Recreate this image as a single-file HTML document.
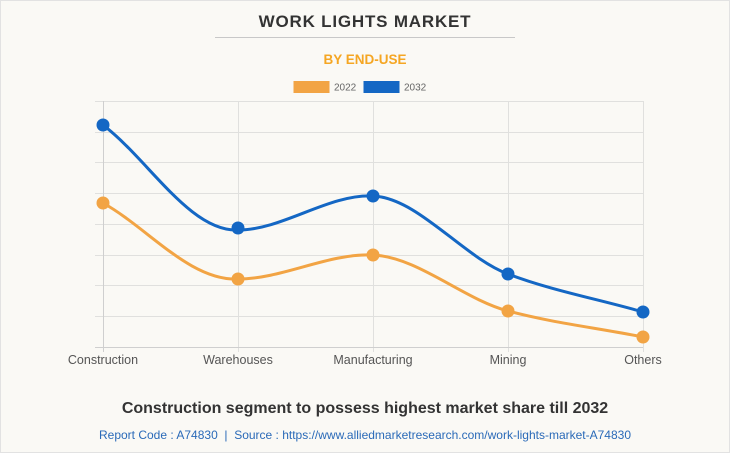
<!DOCTYPE html>
<html><head><meta charset="utf-8"><style>
html,body{margin:0;padding:0;}
body{width:730px;height:453px;background:#faf9f5;font-family:"Liberation Sans",Arial,sans-serif;overflow:hidden;position:relative;}
.frame{position:absolute;left:0;top:0;width:728px;height:451px;border:1px solid #e2e2e2;}
</style></head><body>
<div class="frame"></div>
<svg width="730" height="453" style="position:absolute;left:0;top:0" xmlns="http://www.w3.org/2000/svg">
<text x="365" y="27" text-anchor="middle" font-family="Liberation Sans, Arial, sans-serif" font-weight="bold" font-size="17" letter-spacing="0.8" fill="#333">WORK LIGHTS MARKET</text>
<line x1="215" y1="37.5" x2="515" y2="37.5" stroke="#c8c8c8" stroke-width="1"/>
<text x="365" y="64" text-anchor="middle" font-family="Liberation Sans, Arial, sans-serif" font-weight="bold" font-size="13.5" fill="#f5a623">BY END-USE</text>
<rect x="293.5" y="81" width="36" height="12" fill="#f2a444"/>
<text x="334" y="90.5" font-family="Liberation Sans, Arial, sans-serif" font-size="10" fill="#666">2022</text>
<rect x="363.5" y="81" width="36" height="12" fill="#1467c4"/>
<text x="404" y="90.5" font-family="Liberation Sans, Arial, sans-serif" font-size="10" fill="#666">2032</text>
<g stroke="#e0e0de" stroke-width="1">
<line x1="95" y1="101.5" x2="643" y2="101.5"/>
<line x1="95" y1="132.5" x2="643" y2="132.5"/>
<line x1="95" y1="162.5" x2="643" y2="162.5"/>
<line x1="95" y1="193.5" x2="643" y2="193.5"/>
<line x1="95" y1="224.5" x2="643" y2="224.5"/>
<line x1="95" y1="255.5" x2="643" y2="255.5"/>
<line x1="95" y1="285.5" x2="643" y2="285.5"/>
<line x1="95" y1="316.5" x2="643" y2="316.5"/>
<line x1="238.5" y1="101" x2="238.5" y2="352"/>
<line x1="373.5" y1="101" x2="373.5" y2="352"/>
<line x1="508.5" y1="101" x2="508.5" y2="352"/>
<line x1="643.5" y1="101" x2="643.5" y2="352"/>
</g>
<line x1="103.5" y1="101" x2="103.5" y2="352" stroke="#cfcfcf"/>
<line x1="95" y1="347.5" x2="643" y2="347.5" stroke="#cfcfcf"/>
<path d="M103,125 C148,159 190,232 238,230 C283,230 328,194 373,196 C418,198 463,257 508,274 C553,291 598,299 643,312" fill="none" stroke="#1467c4" stroke-width="3"/>
<path d="M103,203 C148,228 190,281 238,279 C283,279 328,253 373,255 C418,257 463,299 508,311 C553,323 598,328 643,337" fill="none" stroke="#f2a444" stroke-width="3"/>
<g fill="#1467c4">
<circle cx="103" cy="125" r="6.5"/><circle cx="238" cy="228" r="6.5"/><circle cx="373" cy="196" r="6.5"/><circle cx="508" cy="274" r="6.5"/><circle cx="643" cy="312" r="6.5"/>
</g>
<g fill="#f2a444">
<circle cx="103" cy="203" r="6.5"/><circle cx="238" cy="279" r="6.5"/><circle cx="373" cy="255" r="6.5"/><circle cx="508" cy="311" r="6.5"/><circle cx="643" cy="337" r="6.5"/>
</g>
<g font-family="Liberation Sans, Arial, sans-serif" font-size="12.5" fill="#555" text-anchor="middle">
<text x="103" y="364">Construction</text>
<text x="238" y="364">Warehouses</text>
<text x="373" y="364">Manufacturing</text>
<text x="508" y="364">Mining</text>
<text x="643" y="364">Others</text>
</g>
<text x="365" y="413" text-anchor="middle" font-family="Liberation Sans, Arial, sans-serif" font-weight="bold" font-size="16" fill="#333">Construction segment to possess highest market share till 2032</text>
<text x="365" y="439" text-anchor="middle" xml:space="preserve" style="white-space:pre" font-family="Liberation Sans, Arial, sans-serif" font-size="12" fill="#2a6ab8">Report Code : A74830  |  Source : https://www.alliedmarketresearch.com/work-lights-market-A74830</text>
</svg>
</body></html>
